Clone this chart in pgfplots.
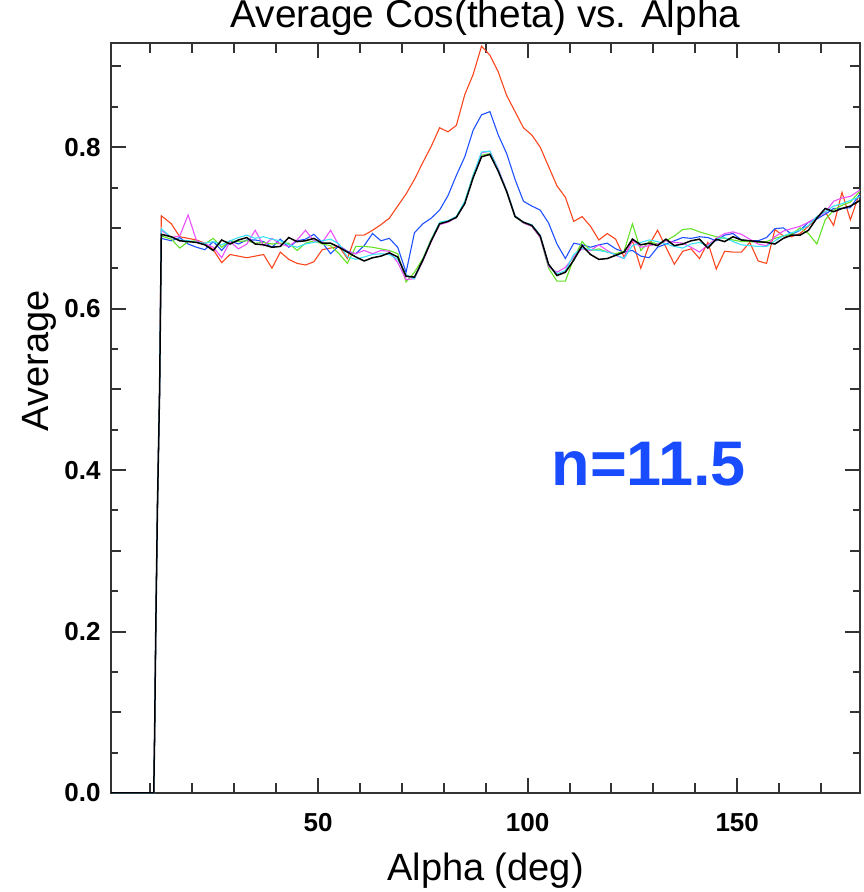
\documentclass[border=0pt]{standalone}
\usepackage{fontspec}
\setmainfont{Liberation Sans}
\usepackage{pgfplots}
\usepackage{pgfplotstable}
\pgfplotsset{compat=1.18}
\definecolor{cred}{RGB}{250,70,30}
\definecolor{cblue}{RGB}{30,80,255}
\definecolor{cgreen}{RGB}{100,225,40}
\definecolor{cmag}{RGB}{235,80,255}
\definecolor{ccyan}{RGB}{60,225,250}
\definecolor{nblue}{RGB}{25,75,255}
\pgfplotstableread{
x red blue green magenta cyan black
0.6 0 0 0 0 0 0
10.8 0 0 0 0 0 0
11.0 0.07 0.07 0.07 0.07 0.07 0.07
11.3 0.21 0.21 0.21 0.21 0.21 0.21
11.7 0.36 0.36 0.36 0.36 0.36 0.36
12.2 0.50 0.50 0.50 0.50 0.50 0.50
12.6 0.715 0.687 0.690 0.697 0.699 0.692
15 0.705 0.684 0.686 0.688 0.688 0.689
17 0.689 0.688 0.675 0.690 0.685 0.684
19 0.687 0.680 0.683 0.716 0.684 0.683
21 0.685 0.676 0.684 0.684 0.682 0.682
23 0.681 0.673 0.680 0.680 0.681 0.679
25 0.673 0.683 0.687 0.676 0.683 0.672
27 0.657 0.672 0.676 0.663 0.679 0.685
29 0.667 0.684 0.684 0.683 0.684 0.680
31 0.665 0.680 0.683 0.674 0.688 0.685
33 0.663 0.685 0.684 0.680 0.691 0.688
35 0.665 0.685 0.681 0.697 0.687 0.680
37 0.667 0.683 0.682 0.678 0.689 0.679
39 0.650 0.676 0.680 0.687 0.686 0.676
41 0.670 0.686 0.681 0.680 0.684 0.677
43 0.661 0.676 0.681 0.677 0.679 0.688
45 0.656 0.684 0.672 0.685 0.676 0.683
47 0.654 0.686 0.681 0.697 0.680 0.684
49 0.658 0.692 0.684 0.684 0.682 0.687
51 0.673 0.682 0.680 0.682 0.684 0.681
53 0.675 0.668 0.678 0.697 0.686 0.681
55 0.677 0.678 0.668 0.678 0.680 0.676
57 0.662 0.671 0.656 0.670 0.664 0.670
59 0.691 0.668 0.677 0.668 0.661 0.664
61 0.691 0.678 0.677 0.672 0.664 0.659
63 0.697 0.693 0.676 0.668 0.667 0.663
65 0.704 0.684 0.674 0.672 0.668 0.665
67 0.712 0.687 0.672 0.671 0.667 0.669
69 0.727 0.676 0.668 0.657 0.661 0.664
71 0.742 0.645 0.633 0.636 0.642 0.640
73 0.760 0.694 0.645 0.637 0.637 0.639
75 0.781 0.705 0.662 0.659 0.661 0.660
77 0.801 0.712 0.686 0.683 0.685 0.684
79 0.824 0.722 0.706 0.704 0.707 0.705
81 0.819 0.740 0.708 0.707 0.709 0.708
83 0.827 0.765 0.714 0.713 0.714 0.713
85 0.865 0.788 0.732 0.731 0.733 0.730
87 0.890 0.821 0.765 0.764 0.765 0.762
89 0.925 0.840 0.790 0.793 0.794 0.788
91 0.914 0.844 0.792 0.795 0.795 0.791
93 0.893 0.815 0.771 0.773 0.772 0.770
95 0.864 0.792 0.745 0.746 0.746 0.745
97 0.844 0.760 0.714 0.715 0.715 0.714
99 0.824 0.733 0.706 0.706 0.707 0.707
101 0.815 0.727 0.702 0.702 0.704 0.703
103 0.800 0.722 0.688 0.688 0.691 0.690
105 0.776 0.706 0.650 0.652 0.654 0.655
107 0.752 0.680 0.634 0.645 0.643 0.641
109 0.738 0.662 0.634 0.651 0.647 0.645
111 0.708 0.681 0.662 0.664 0.667 0.660
113 0.714 0.679 0.683 0.674 0.675 0.678
115 0.702 0.676 0.672 0.672 0.673 0.667
117 0.685 0.679 0.674 0.679 0.672 0.661
119 0.693 0.681 0.670 0.672 0.670 0.662
121 0.686 0.674 0.668 0.666 0.667 0.666
123 0.664 0.670 0.671 0.662 0.662 0.670
125 0.684 0.672 0.705 0.685 0.678 0.686
127 0.650 0.665 0.672 0.676 0.682 0.679
129 0.679 0.663 0.683 0.678 0.685 0.681
131 0.697 0.676 0.680 0.680 0.683 0.678
133 0.676 0.680 0.684 0.684 0.680 0.686
135 0.655 0.684 0.690 0.682 0.677 0.678
137 0.671 0.688 0.698 0.681 0.675 0.680
139 0.674 0.687 0.699 0.676 0.680 0.684
141 0.662 0.689 0.695 0.670 0.682 0.686
143 0.682 0.688 0.692 0.679 0.677 0.675
145 0.649 0.684 0.689 0.687 0.686 0.686
147 0.671 0.691 0.687 0.693 0.688 0.683
149 0.670 0.693 0.685 0.695 0.683 0.689
151 0.670 0.685 0.683 0.692 0.679 0.685
153 0.682 0.684 0.683 0.686 0.678 0.684
155 0.659 0.684 0.682 0.680 0.677 0.683
157 0.656 0.688 0.683 0.678 0.677 0.682
159 0.698 0.699 0.687 0.689 0.684 0.680
161 0.690 0.700 0.690 0.696 0.690 0.687
163 0.689 0.692 0.692 0.699 0.694 0.691
165 0.693 0.697 0.700 0.702 0.697 0.691
167 0.702 0.707 0.693 0.707 0.703 0.697
169 0.713 0.711 0.680 0.713 0.714 0.712
171 0.720 0.717 0.710 0.719 0.720 0.724
173 0.703 0.724 0.722 0.733 0.727 0.720
175 0.744 0.724 0.728 0.737 0.730 0.724
177 0.710 0.725 0.732 0.739 0.734 0.727
179 0.740 0.740 0.744 0.746 0.738 0.733
179.3 0.742 0.741 0.745 0.747 0.739 0.734
}\datatable
\begin{document}
\begin{tikzpicture}
\useasboundingbox (0,0) rectangle (431.5pt,446pt);
\begin{axis}[
  at={(55.5pt,49.5pt)}, anchor=south west,
  scale only axis, width=374.5pt, height=375pt,
  xmin=0.6, xmax=179.3, ymin=0, ymax=0.929,
  axis line style={line width=1pt, black!80},
  every tick/.style={line width=1pt, black!80},
  tick align=inside,
  major tick length=7.5pt,
  minor tick length=3.5pt,
  xtick={50,100,150},
  extra x ticks={10,20,30,40,60,70,80,90,110,120,130,140,160,170},
  extra x tick labels={},
  extra x tick style={major tick length=5pt},
  ytick={0,0.2,0.4,0.6,0.8},
  extra y ticks={0.1,0.3,0.5,0.7,0.9},
  extra y tick labels={},
  extra y tick style={major tick length=5pt},
  minor ytick={0.05,0.15,0.25,0.35,0.45,0.55,0.65,0.75,0.85},
  /pgf/number format/assume math mode=true,
  yticklabel={\pgfmathprintnumber[fixed,fixed zerofill,precision=1]{\tick}},
  ticklabel style={font=\bfseries\fontsize{13pt}{15pt}\selectfont},
  yticklabel style={xshift=-1.7pt},
  xticklabel style={yshift=-6.7pt},
  title={Average Cos(theta) vs. Alpha},
  title style={at={(0.5,1)}, anchor=base, yshift=1.5pt, font=\fontsize{19.4pt}{22pt}\selectfont},
  xlabel={Alpha (deg)},
  xlabel style={at={(axis description cs:0.5,0)}, anchor=base, yshift=-44pt, font=\fontsize{19pt}{22pt}\selectfont},
  ylabel={Average},
  ylabel style={at={(axis description cs:-0.0841,0.576)}, anchor=base, rotate=0, font=\fontsize{19pt}{22pt}\selectfont},
  clip=false,
]
\addplot[cred, line width=0.55pt] table[x=x,y=red] {\datatable};
\addplot[cblue, line width=0.55pt] table[x=x,y=blue] {\datatable};
\addplot[cgreen, line width=0.55pt] table[x=x,y=green] {\datatable};
\addplot[cmag, line width=0.55pt] table[x=x,y=magenta] {\datatable};
\addplot[ccyan, line width=0.55pt] table[x=x,y=cyan] {\datatable};
\addplot[black, line width=0.75pt] table[x=x,y=black] {\datatable};
\node[font=\bfseries\fontsize{31.5pt}{34pt}\selectfont, text=nblue, anchor=center] at (rel axis cs:0.718,0.4387) {n=11.5};
\end{axis}
\end{tikzpicture}
\end{document}
